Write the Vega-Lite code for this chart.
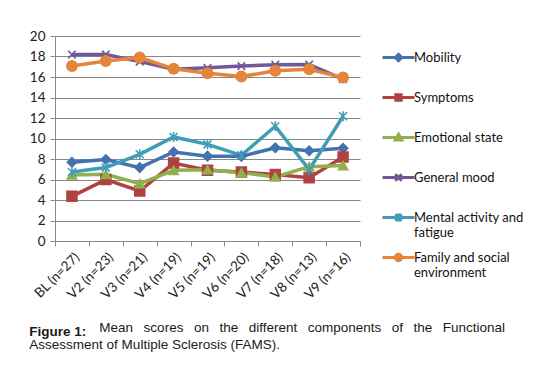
{
  "$schema": "https://vega.github.io/schema/vega-lite/v6.json",
  "width": 305,
  "height": 205,
  "autosize": "none",
  "padding": {"left": 55, "top": 36, "right": 199, "bottom": 127},
  "background": "white",
  "config": {
    "view": {"stroke": null},
    "font": "Lato"
  },
  "title": {
    "text": "Figure 1:",
    "subtitle": ["\u2800\u00a0\u00a0\u00a0\u00a0\u00a0\u00a0\u00a0\u00a0\u00a0\u00a0\u00a0\u00a0\u00a0\u00a0\u00a0\u00a0Mean \u2002scores \u2002on \u2002the \u2002different \u2002components \u2002of \u2002the \u2002Functional", "Assessment of Multiple Sclerosis (FAMS)."],
    "orient": "bottom",
    "anchor": "start",
    "frame": "bounds",
    "font": "Liberation Sans",
    "fontSize": 13.5,
    "fontWeight": "bold",
    "color": "#1a1a1a",
    "subtitleFont": "Liberation Sans",
    "subtitleFontSize": 13.5,
    "subtitleColor": "#1a1a1a",
    "subtitleLineHeight": 17,
    "lineHeight": 17,
    "subtitlePadding": -17,
    "offset": 24
  },
  "data": {
    "values": [
      {"visit": "BL (n=27)", "series": "Mobility", "value": 7.68},
      {"visit": "V2 (n=23)", "series": "Mobility", "value": 7.94},
      {"visit": "V3 (n=21)", "series": "Mobility", "value": 7.16},
      {"visit": "V4 (n=19)", "series": "Mobility", "value": 8.68},
      {"visit": "V5 (n=19)", "series": "Mobility", "value": 8.28},
      {"visit": "V6 (n=20)", "series": "Mobility", "value": 8.26},
      {"visit": "V7 (n=18)", "series": "Mobility", "value": 9.1},
      {"visit": "V8 (n=13)", "series": "Mobility", "value": 8.8},
      {"visit": "V9 (n=16)", "series": "Mobility", "value": 9.05},
      {"visit": "BL (n=27)", "series": "Symptoms", "value": 4.36},
      {"visit": "V2 (n=23)", "series": "Symptoms", "value": 5.99},
      {"visit": "V3 (n=21)", "series": "Symptoms", "value": 4.88},
      {"visit": "V4 (n=19)", "series": "Symptoms", "value": 7.6},
      {"visit": "V5 (n=19)", "series": "Symptoms", "value": 6.9},
      {"visit": "V6 (n=20)", "series": "Symptoms", "value": 6.73},
      {"visit": "V7 (n=18)", "series": "Symptoms", "value": 6.48},
      {"visit": "V8 (n=13)", "series": "Symptoms", "value": 6.18},
      {"visit": "V9 (n=16)", "series": "Symptoms", "value": 8.2},
      {"visit": "BL (n=27)", "series": "Emotional state", "value": 6.45},
      {"visit": "V2 (n=23)", "series": "Emotional state", "value": 6.5},
      {"visit": "V3 (n=21)", "series": "Emotional state", "value": 5.6},
      {"visit": "V4 (n=19)", "series": "Emotional state", "value": 6.9},
      {"visit": "V5 (n=19)", "series": "Emotional state", "value": 6.96},
      {"visit": "V6 (n=20)", "series": "Emotional state", "value": 6.67},
      {"visit": "V7 (n=18)", "series": "Emotional state", "value": 6.25},
      {"visit": "V8 (n=13)", "series": "Emotional state", "value": 7.25},
      {"visit": "V9 (n=16)", "series": "Emotional state", "value": 7.36},
      {"visit": "BL (n=27)", "series": "General mood", "value": 18.19},
      {"visit": "V2 (n=23)", "series": "General mood", "value": 18.2},
      {"visit": "V3 (n=21)", "series": "General mood", "value": 17.5},
      {"visit": "V4 (n=19)", "series": "General mood", "value": 16.75},
      {"visit": "V5 (n=19)", "series": "General mood", "value": 16.9},
      {"visit": "V6 (n=20)", "series": "General mood", "value": 17.07},
      {"visit": "V7 (n=18)", "series": "General mood", "value": 17.2},
      {"visit": "V8 (n=13)", "series": "General mood", "value": 17.22},
      {"visit": "V9 (n=16)", "series": "General mood", "value": 15.8},
      {"visit": "BL (n=27)", "series": "Mental activity and fatigue", "value": 6.73},
      {"visit": "V2 (n=23)", "series": "Mental activity and fatigue", "value": 7.16},
      {"visit": "V3 (n=21)", "series": "Mental activity and fatigue", "value": 8.46},
      {"visit": "V4 (n=19)", "series": "Mental activity and fatigue", "value": 10.15},
      {"visit": "V5 (n=19)", "series": "Mental activity and fatigue", "value": 9.43},
      {"visit": "V6 (n=20)", "series": "Mental activity and fatigue", "value": 8.36},
      {"visit": "V7 (n=18)", "series": "Mental activity and fatigue", "value": 11.2},
      {"visit": "V8 (n=13)", "series": "Mental activity and fatigue", "value": 6.96},
      {"visit": "V9 (n=16)", "series": "Mental activity and fatigue", "value": 12.17},
      {"visit": "BL (n=27)", "series": "Family and social environment", "value": 17.07},
      {"visit": "V2 (n=23)", "series": "Family and social environment", "value": 17.56},
      {"visit": "V3 (n=21)", "series": "Family and social environment", "value": 17.9},
      {"visit": "V4 (n=19)", "series": "Family and social environment", "value": 16.8},
      {"visit": "V5 (n=19)", "series": "Family and social environment", "value": 16.36},
      {"visit": "V6 (n=20)", "series": "Family and social environment", "value": 16.04},
      {"visit": "V7 (n=18)", "series": "Family and social environment", "value": 16.6},
      {"visit": "V8 (n=13)", "series": "Family and social environment", "value": 16.75},
      {"visit": "V9 (n=16)", "series": "Family and social environment", "value": 15.95}
    ]
  },
  "encoding": {
    "x": {
      "field": "visit",
      "type": "nominal",
      "sort": null,
      "scale": {"type": "band", "paddingInner": 0, "paddingOuter": 0},
      "axis": {
        "title": null,
        "labelAngle": -45,
        "tickBand": "extent",
        "domainColor": "#888888",
        "tickColor": "#888888",
        "tickSize": 5,
        "labelFont": "Lato",
        "labelFontSize": 13.5,
        "labelColor": "#222222",
        "labelPadding": 4
      }
    },
    "y": {
      "field": "value",
      "type": "quantitative",
      "scale": {"domain": [0, 20], "nice": false},
      "axis": {
        "title": null,
        "values": [0, 2, 4, 6, 8, 10, 12, 14, 16, 18, 20],
        "grid": true,
        "gridColor": "#888888",
        "domainColor": "#888888",
        "tickColor": "#888888",
        "tickSize": 5,
        "labelFont": "Lato",
        "labelFontSize": 13.5,
        "labelColor": "#222222",
        "labelPadding": 5
      }
    },
    "fill": {
      "field": "series",
      "type": "nominal",
      "scale": {
        "domain": ["Mobility", "Symptoms", "Emotional state", "General mood", "Mental activity and fatigue", "Family and social environment"],
        "range": ["#4472AE", "#B0433F", "#8FB04C", "#72579A", "#3F9DB8", "#E5853B"]
      }
    },
    "stroke": {
      "field": "series",
      "type": "nominal",
      "scale": {
        "domain": ["Mobility", "Symptoms", "Emotional state", "General mood", "Mental activity and fatigue", "Family and social environment"],
        "range": ["#4472AE", "#B0433F", "#8FB04C", "#72579A", "#3F9DB8", "#E5853B"]
      }
    }
  },
  "layer": [
    {
      "mark": {"type": "line", "strokeWidth": 3.5, "fill": null},
      "encoding": {"fill": {"value": null}}
    },
    {
      "transform": [{"filter": "datum.series == 'Mobility'"}],
      "mark": {"type": "point", "filled": true, "strokeWidth": 1.5, "opacity": 1, "size": 90, "shape": "diamond"}
    },
    {
      "transform": [{"filter": "datum.series == 'Symptoms'"}],
      "mark": {"type": "point", "filled": true, "strokeWidth": 1.5, "opacity": 1, "size": 100, "shape": "square"}
    },
    {
      "transform": [{"filter": "datum.series == 'Emotional state'"}],
      "mark": {"type": "point", "filled": true, "strokeWidth": 1.5, "opacity": 1, "size": 90, "shape": "triangle-up"}
    },
    {
      "transform": [{"filter": "datum.series == 'General mood'"}],
      "mark": {"type": "point", "filled": true, "strokeWidth": 1.6, "opacity": 1, "size": 90, "shape": "M-0.8,-0.8L0.8,0.8M-0.8,0.8L0.8,-0.8"}
    },
    {
      "transform": [{"filter": "datum.series == 'Mental activity and fatigue'"}],
      "mark": {"type": "point", "filled": true, "strokeWidth": 1.6, "opacity": 1, "size": 100, "shape": "M-0.8,-0.8L0.8,0.8M-0.8,0.8L0.8,-0.8M0,-1L0,1"}
    },
    {
      "transform": [{"filter": "datum.series == 'Family and social environment'"}],
      "mark": {"type": "point", "filled": true, "strokeWidth": 1.5, "opacity": 1, "size": 110, "shape": "circle"}
    },
    {
      "transform": [{"filter": "datum.value < -100"}],
      "mark": {"type": "point", "filled": true, "strokeWidth": 3, "opacity": 1, "size": 1024},
      "encoding": {
        "shape": {
          "field": "series",
          "type": "nominal",
          "scale": {
            "domain": ["Mobility", "Symptoms", "Emotional state", "General mood", "Mental activity and fatigue", "Family and social environment"],
            "range": [
              "M-1,0H1M0,-0.2L0.2,0L0,0.2L-0.2,0Z",
              "M-1,0H1M-0.17,-0.17H0.17V0.17H-0.17Z",
              "M-1,0H1M0,-0.2L0.2,0.16L-0.2,0.16Z",
              "M-1,0H1M-0.2,-0.2L0.2,0.2M-0.2,0.2L0.2,-0.2",
              "M-1,0H1M-0.2,-0.2L0.2,0.2M-0.2,0.2L0.2,-0.2M0,-0.25V0.25",
              "M-1,0H1M0.2,0A0.2,0.2,0,1,1,-0.2,0A0.2,0.2,0,1,1,0.2,0Z"
            ]
          },
          "legend": {
            "title": null,
            "orient": "none",
            "legendX": 326,
            "legendY": 4,
            "padding": 0,
            "symbolSize": 1024,
            "symbolStrokeWidth": 3,
            "symbolOpacity": 1,
            "labelFont": "Lato",
            "labelFontSize": 13,
            "labelColor": "#111111",
            "labelOffset": -2,
            "labelLimit": 200,
            "gridAlign": "all",
            "rowPadding": 0,
            "labelExpr": "datum.label == 'Mental activity and fatigue' ? ['Mental activity and', 'fatigue'] : datum.label == 'Family and social environment' ? ['Family and social', 'environment'] : datum.label"
          }
        }
      }
    }
  ]
}
